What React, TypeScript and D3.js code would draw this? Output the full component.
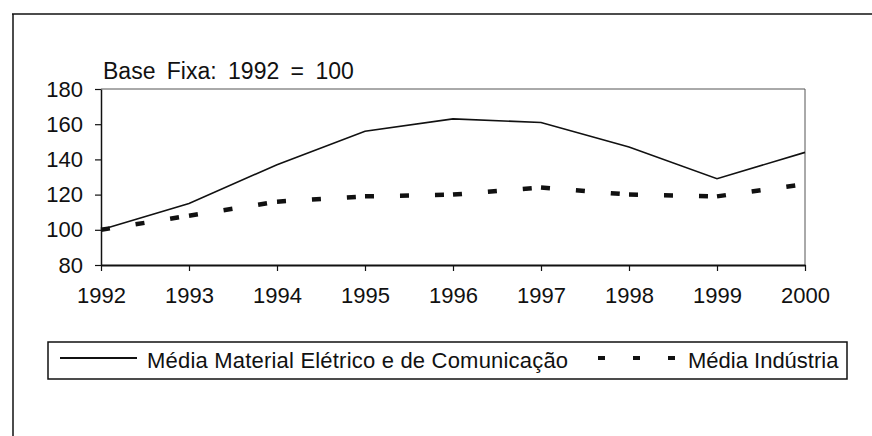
import { useEffect, useRef } from 'react';
import * as d3 from 'd3';

// Index values, fixed base 1992 = 100
const years = [1992, 1993, 1994, 1995, 1996, 1997, 1998, 1999, 2000];
const materialEletrico = [100, 115, 137, 156, 163, 161, 147, 129, 144];
const mediaIndustria = [100, 108, 116, 119, 120, 124, 120, 119, 126];
const yTicks = [80, 100, 120, 140, 160, 180];

const titleText = 'Base Fixa: 1992 = 100';
const legendSolid = 'Média Material Elétrico e de Comunicação';
const legendDashed = 'Média Indústria';

const FONT = '"Liberation Sans", Arial, sans-serif';

export default function App() {
  const svgRef = useRef<SVGSVGElement | null>(null);

  useEffect(() => {
    if (!svgRef.current) return;
    const width = 872;
    const height = 436;
    const svg = d3.select(svgRef.current);
    svg.selectAll('*').remove();
    svg.attr('width', width).attr('height', height);

    // plot area (pixel box of the axes)
    const left = 101;
    const right = 805;
    const top = 89;
    const bottom = 265;

    const x = d3.scaleLinear().domain([1992, 2000]).range([left, right]);
    const y = d3.scaleLinear().domain([80, 180]).range([bottom, top]);

    // outer page frame (top and left edges only)
    svg.append('line')
      .attr('x1', 12).attr('x2', width).attr('y1', 14).attr('y2', 14)
      .attr('stroke', '#111').attr('stroke-width', 1.5);
    svg.append('line')
      .attr('x1', 13).attr('x2', 13).attr('y1', 14).attr('y2', height)
      .attr('stroke', '#111').attr('stroke-width', 1.5);

    // plot area border top and right
    svg.append('path')
      .attr('d', `M${left},${top}H${right}V${bottom}`)
      .attr('fill', 'none')
      .attr('stroke', '#555')
      .attr('stroke-width', 1);

    // title
    svg.append('text')
      .attr('x', 103)
      .attr('y', 79)
      .attr('font-family', FONT)
      .attr('font-size', 23)
      .attr('word-spacing', 5)
      .attr('fill', '#111')
      .text(titleText);

    // y axis
    const yAxis = d3.axisLeft(y).tickValues(yTicks).tickSize(6).tickSizeOuter(0).tickPadding(12);
    const gy = svg.append('g').attr('transform', `translate(${left},0)`).call(yAxis);
    gy.select('.domain').attr('stroke', '#111').attr('stroke-width', 1.5);
    gy.selectAll('.tick line').attr('stroke', '#111').attr('stroke-width', 1.2);
    gy.selectAll('.tick text')
      .attr('font-family', FONT).attr('font-size', 22).attr('fill', '#111');

    // x axis
    const xAxis = d3.axisBottom(x).tickValues(years).tickFormat(d3.format('d')).tickSize(6).tickSizeOuter(0).tickPadding(16);
    const gx = svg.append('g').attr('transform', `translate(0,${bottom})`).call(xAxis);
    gx.select('.domain').attr('stroke', '#111').attr('stroke-width', 1.8);
    gx.selectAll('.tick line').attr('stroke', '#111').attr('stroke-width', 1.2);
    gx.selectAll('.tick text')
      .attr('font-family', FONT).attr('font-size', 22).attr('fill', '#111');

    // solid series
    const line = d3.line<number>()
      .x((d, i) => x(years[i]))
      .y(d => y(d));
    svg.append('path')
      .datum(materialEletrico)
      .attr('fill', 'none')
      .attr('stroke', '#111')
      .attr('stroke-width', 1.6)
      .attr('d', line);

    // dashed series: the dash pattern restarts at each point, like the original
    const segs = d3.pairs(mediaIndustria.map((v, i) => [x(years[i]), y(v)] as [number, number]));
    svg.append('g')
      .selectAll('path')
      .data(segs)
      .join('path')
      .attr('fill', 'none')
      .attr('stroke', '#111')
      .attr('stroke-width', 4.5)
      .attr('stroke-dasharray', '9,26')
      .attr('d', d => d3.line()(d));

    // legend
    const lg = svg.append('g');
    lg.append('rect')
      .attr('x', 48).attr('y', 342).attr('width', 799).attr('height', 37)
      .attr('fill', 'none').attr('stroke', '#111').attr('stroke-width', 1.5);
    lg.append('line')
      .attr('x1', 60).attr('x2', 137).attr('y1', 358).attr('y2', 358)
      .attr('stroke', '#111').attr('stroke-width', 1.8);
    lg.append('text')
      .attr('x', 147).attr('y', 368)
      .attr('font-family', FONT).attr('font-size', 22).attr('letter-spacing', 0.2).attr('fill', '#111')
      .text(legendSolid);
    lg.append('line')
      .attr('x1', 598).attr('x2', 678).attr('y1', 358).attr('y2', 358)
      .attr('stroke', '#111').attr('stroke-width', 4)
      .attr('stroke-dasharray', '7,28');
    lg.append('text')
      .attr('x', 688).attr('y', 368)
      .attr('font-family', FONT).attr('font-size', 22).attr('fill', '#111')
      .text(legendDashed);
  }, []);

  return (
    <div style={{ position: 'absolute', left: 0, top: 0, width: 872, height: 436, background: '#fff' }}>
      <svg ref={svgRef} style={{ display: 'block' }}></svg>
    </div>
  );
}
